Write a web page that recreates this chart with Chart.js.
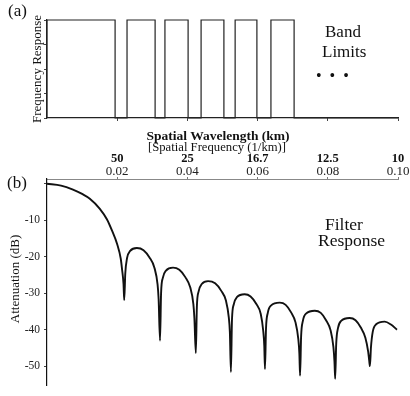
<!DOCTYPE html>
<html>
<head>
<meta charset="utf-8">
<script src="https://cdn.jsdelivr.net/npm/chart.js@4"></script>
<style>
  body { margin: 0; background: #fff; }
  #wrap { position: relative; width: 410px; height: 396px; background: #fff; overflow: hidden; }
  canvas { position: absolute; left: 0; }
  .t { position: absolute; font-family: 'Liberation Serif', serif; color: #111; line-height: 1; white-space: nowrap; }
  .rot { transform: translate(-50%, -50%) rotate(-90deg); }
</style>
</head>
<body>
<div id="wrap">
  <canvas id="bandChart" width="410" height="130" style="top:0"></canvas>
  <canvas id="filterChart" width="410" height="266" style="top:130px"></canvas>

  <div class="t" style="left:8px;top:2px;font-size:17px">(a)</div>
  <div class="t rot" style="left:36px;top:69px;font-size:13px">Frequency Response</div>
  <div class="t" style="left:325px;top:23px;font-size:17px">Band</div>
  <div class="t" style="left:322px;top:43px;font-size:17px">Limits</div>
  <div class="t" style="left:316px;top:68px;font-size:16px;word-spacing:4px">• • •</div>

  <div class="t" style="left:218px;top:129px;font-size:13.5px;font-weight:bold;transform:translateX(-50%)">Spatial Wavelength (km)</div>
  <div class="t" style="left:217px;top:141px;font-size:12.7px;transform:translateX(-50%)">[Spatial Frequency (1/km)]</div>

  <div class="t" style="left:7px;top:174px;font-size:17px">(b)</div>
  <div class="t rot" style="left:14px;top:279px;font-size:13px">Attenuation (dB)</div>
  <div class="t" style="left:325px;top:216px;font-size:17.5px">Filter</div>
  <div class="t" style="left:318px;top:232px;font-size:17.5px">Response</div>
</div>

<script>
Chart.defaults.font.family = "'Liberation Serif', serif";
Chart.defaults.color = "#111";

// band edges (spatial frequency, 1/km)
var bandStart = [0, 0.0228, 0.0336, 0.0439, 0.0536, 0.0638];
var bandEnd = [0.0194, 0.0308, 0.0402, 0.0504, 0.0598, 0.0704];

// filter response
var freq = [
  0, 0.0040, 0.0074, 0.0100, 0.0122, 0.0150, 0.0171, 0.0185, 0.0200, 0.0210, 0.0214, 0.0218, 0.0220,
  0.0223, 0.0228, 0.0237, 0.0256, 0.0275, 0.0292, 0.0306, 0.0315, 0.0318, 0.0322,
  0.0325, 0.0330, 0.0339, 0.0359, 0.0377, 0.0394, 0.0408, 0.0417, 0.0420, 0.0424,
  0.0427, 0.0432, 0.0441, 0.0459, 0.0479, 0.0496, 0.0510, 0.0518, 0.0521, 0.0524,
  0.0527, 0.0532, 0.0541, 0.0563, 0.0580, 0.0596, 0.0609, 0.0616, 0.0619, 0.0621,
  0.0624, 0.0629, 0.0638, 0.0663, 0.0680, 0.0695, 0.0708, 0.0716, 0.0719, 0.0721,
  0.0724, 0.0729, 0.0738, 0.0763, 0.0780, 0.0795, 0.0808, 0.0816, 0.0819, 0.0821,
  0.0824, 0.0829, 0.0838, 0.0862, 0.0879, 0.0894, 0.0907, 0.0915, 0.0918, 0.0920,
  0.0923, 0.0928, 0.0937, 0.0962, 0.0980, 0.0997
];
var attenuation = [
  0, -0.5, -1.6, -2.8, -4.1, -6.8, -9.8, -12.8, -16.6, -20.5, -23.6, -27.5, -31.9,
  -24.6, -20.4, -18.4, -17.6, -18.2, -20.2, -23.0, -27.6, -31.6, -43.0,
  -30.0, -25.8, -23.8, -23.0, -23.6, -25.6, -28.4, -33.0, -37.0, -46.4,
  -33.7, -29.5, -27.5, -26.7, -27.3, -29.3, -32.1, -36.7, -40.7, -51.6,
  -37.3, -33.1, -31.1, -30.3, -30.9, -32.9, -35.7, -40.3, -44.3, -50.8,
  -39.6, -35.4, -33.4, -32.6, -33.2, -35.2, -38.0, -42.6, -46.6, -52.6,
  -41.8, -37.6, -35.6, -34.8, -35.4, -37.4, -40.2, -44.8, -48.8, -53.5,
  -43.8, -39.6, -37.6, -36.8, -37.4, -39.4, -42.2, -46.0, -48.5, -50.0,
  -44.8, -40.6, -38.6, -37.8, -38.6, -40.0
];

// tick labels
var freqTicks = [0.02, 0.04, 0.06, 0.08, 0.10];
var freqLabels = ["0.02", "0.04", "0.06", "0.08", "0.10"];
var wavelengthLabels = ["50", "25", "16.7", "12.5", "10"];
var dbTicks = [-50, -40, -30, -20, -10, 0];
var dbLabels = ["-50", "-40", "-30", "-20", "-10", ""];
var bandYTicks = [0, 0.25, 0.5, 0.75, 1];

// build the band outline
var bandPoints = [];
for (var i = 0; i < bandStart.length; i++) {
  bandPoints.push({ x: bandStart[i], y: 0 });
  bandPoints.push({ x: bandStart[i], y: 1 });
  bandPoints.push({ x: bandEnd[i], y: 1 });
  bandPoints.push({ x: bandEnd[i], y: 0 });
}
bandPoints.push({ x: 0.1, y: 0 });

var filterPoints = freq.map(function (f, i) { return { x: f, y: attenuation[i] }; });

function setTicks(list) {
  return function (scale) { scale.ticks = list.map(function (v) { return { value: v }; }); };
}

// (a) band limits
new Chart(document.getElementById("bandChart").getContext("2d"), {
  type: "line",
  data: {
    datasets: [{
      data: bandPoints,
      borderColor: "#222",
      borderWidth: 1.2,
      pointRadius: 0,
      tension: 0,
      clip: 4
    }]
  },
  options: {
    responsive: false,
    animation: false,
    layout: { padding: { top: 20, right: 12, left: 0, bottom: 0 } },
    plugins: { legend: { display: false }, tooltip: { enabled: false } },
    scales: {
      x: {
        type: "linear", min: 0, max: 0.1,
        afterBuildTicks: setTicks(freqTicks),
        afterFit: function (s) { s.height = 12; },
        ticks: { display: false },
        grid: { drawOnChartArea: false, tickLength: 3, color: "#444" },
        border: { color: "#222", width: 1.2 }
      },
      y: {
        min: 0, max: 1,
        afterBuildTicks: setTicks(bandYTicks),
        afterFit: function (s) { s.width = 47; },
        ticks: { display: false },
        grid: { drawOnChartArea: false, tickLength: 3, color: "#444" },
        border: { color: "#222", width: 1.2 }
      }
    }
  }
});

// (b) filter response
new Chart(document.getElementById("filterChart").getContext("2d"), {
  type: "line",
  data: {
    datasets: [{
      data: filterPoints,
      borderColor: "#111",
      borderWidth: 1.9,
      borderJoinStyle: "round",
      pointRadius: 0,
      cubicInterpolationMode: "monotone"
    }]
  },
  options: {
    responsive: false,
    animation: false,
    layout: { padding: { top: 24, right: 12, left: 0, bottom: 0 } },
    plugins: { legend: { display: false }, tooltip: { enabled: false } },
    scales: {
      x: {
        type: "linear", position: "top", min: 0, max: 0.1, weight: 0,
        afterBuildTicks: setTicks(freqTicks),
        afterFit: function (s) { s.height = 13; },
        ticks: {
          font: { size: 13 }, padding: -2, maxRotation: 0, color: "#222",
          callback: function (v, i) { return freqLabels[i]; }
        },
        grid: { drawOnChartArea: false, tickLength: 2, color: "#777" },
        border: { color: "#888", width: 1, dash: [1, 3] }
      },
      x2: {
        type: "linear", position: "top", min: 0, max: 0.1, weight: 1,
        afterBuildTicks: setTicks(freqTicks),
        afterFit: function (s) { s.height = 12; },
        ticks: {
          font: { size: 12.5, weight: "bold" }, padding: 0, maxRotation: 0,
          callback: function (v, i) { return wavelengthLabels[i]; }
        },
        grid: { display: false, drawTicks: false },
        border: { display: false }
      },
      y: {
        min: -55.2, max: 1.3,
        afterBuildTicks: setTicks(dbTicks),
        afterFit: function (s) { s.width = 47; },
        ticks: {
          font: { size: 11.5 }, padding: 4, color: "#222",
          callback: function (v, i) { return dbLabels[i]; }
        },
        grid: { drawOnChartArea: false, tickLength: 3, color: "#444" },
        border: { color: "#111", width: 1.2 }
      }
    }
  }
});
</script>
</body>
</html>
